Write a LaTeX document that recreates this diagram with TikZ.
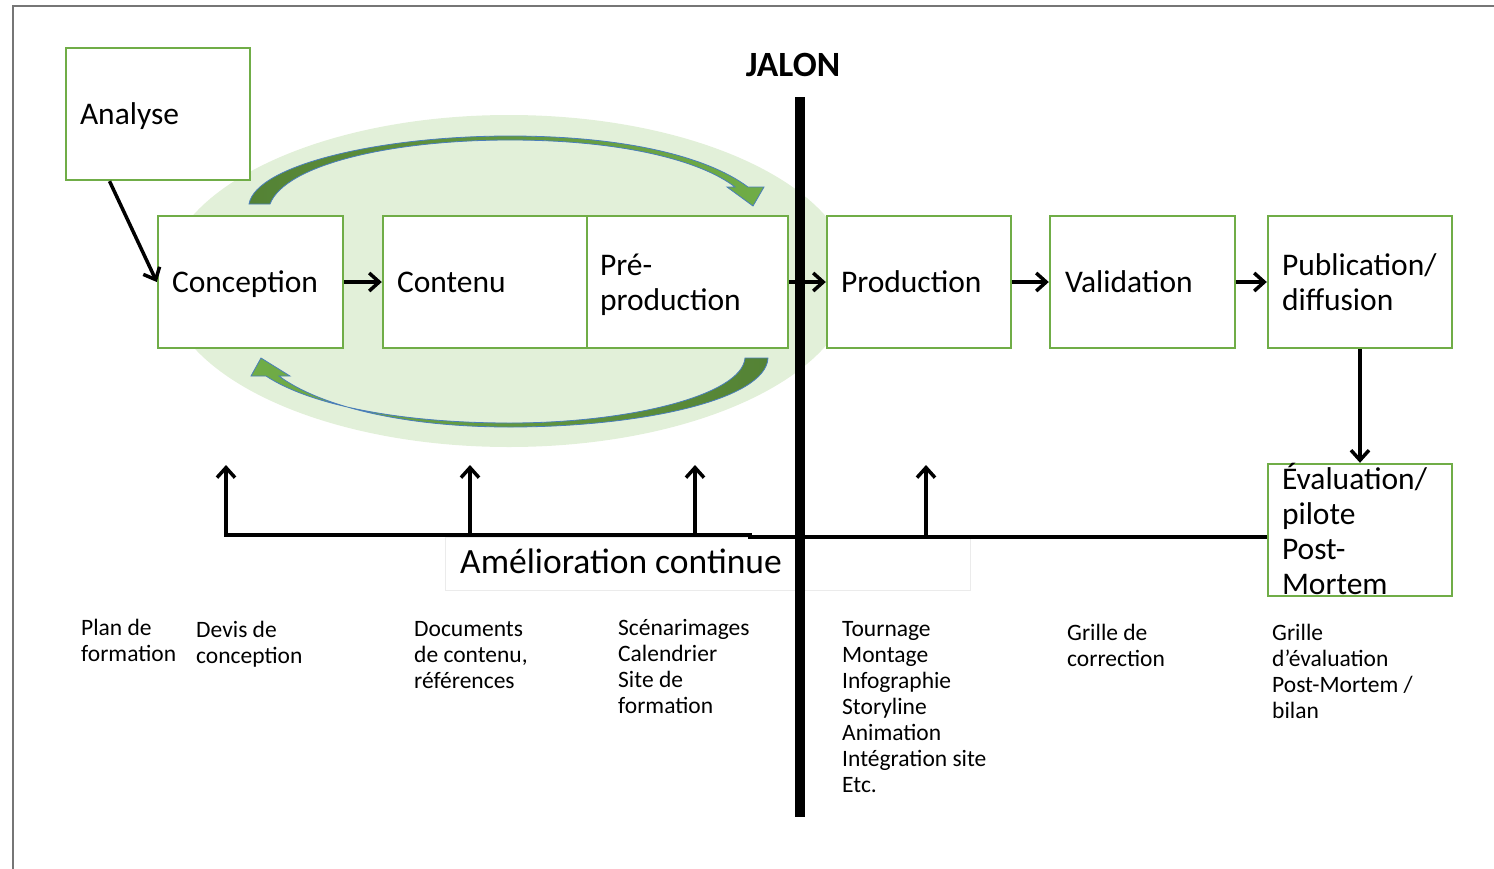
\documentclass[tikz,border=0pt]{standalone}
\usepackage{fontspec}
\setmainfont{Carlito}
\usetikzlibrary{arrows.meta,calc}
\definecolor{boxgreen}{HTML}{70AD47}
\definecolor{halo}{HTML}{E2F0D9}
\definecolor{darkleaf}{HTML}{548235}
\definecolor{lightleaf}{HTML}{70AD47}
\definecolor{rim}{HTML}{4A7EBB}
\definecolor{framegray}{HTML}{767676}
\begin{document}
\begin{tikzpicture}[x=1pt,y=-1pt,
  stage/.style={draw=boxgreen, line width=2.4, fill=white, minimum height=132, inner sep=0},
  stagetext/.style={anchor=base west, align=left, inner sep=0, font=\fontsize{31.5}{35}\selectfont},
  note/.style={anchor=base west, align=left, inner sep=0, font=\fontsize{23.5}{26}\selectfont},
  flow/.style={line width=3.5, -{Straight Barb[length=10,width=18]}},
  loop/.style={draw=rim, line width=0.8},
  rail/.style={line width=3.5},
]
\useasboundingbox (0,0) rectangle (1494,868);

% page frame
\draw[framegray, line width=2.5] (13,880) -- (13,6) -- (1510,6);

% iteration halo
\fill[halo] (509,281) ellipse [x radius=344pt, y radius=166pt];

% curved iteration arrows
\path[loop, left color=darkleaf, right color=lightleaf]
  (249,204) .. controls (256,165) and (380,136) .. (510,136)
  .. controls (620,136) and (705,155) .. (748,187)
  -- (764,187) -- (753,206) -- (727,187) -- (735,187)
  .. controls (700,160) and (620,140) .. (510,140)
  .. controls (390,140) and (285,165) .. (270,204) -- cycle;
\path[loop, left color=lightleaf, right color=darkleaf]
  (768,358) .. controls (766,400) and (640,427) .. (510,427)
  .. controls (400,427) and (318,405) .. (279,376)
  -- (290,376) -- (261,358) -- (251,376) -- (266,376)
  .. controls (310,405) and (400,423) .. (510,423)
  .. controls (630,423) and (742,395) .. (745,358) -- cycle;

% stages
\node[stage, minimum width=184] (analyse) at (158,114) {};
\node[stage, minimum width=185] (conception) at (250.5,282) {};
\node[stage, minimum width=204] (contenu) at (485,282) {};
\node[stage, minimum width=201] (preprod) at (687.5,282) {};
\node[stage, minimum width=184] (production) at (919,282) {};
\node[stage, minimum width=185] (validation) at (1142.5,282) {};
\node[stage, minimum width=184] (publication) at (1360,282) {};
\node[stage, minimum width=184] (evaluation) at (1360,530) {};

% stage labels (base anchor sits on the last line)
\node[stagetext] (t-analyse) at ([shift={(15,10)}]analyse.west) {Analyse};
\node[stagetext] (t-conception) at ([shift={(15,10)}]conception.west) {Conception};
\node[stagetext] (t-contenu) at ([shift={(15,10)}]contenu.west) {Contenu};
\node[stagetext] (t-preprod) at ([shift={(14,28)}]preprod.west) {Pré-\\production};
\node[stagetext] (t-production) at ([shift={(15,10)}]production.west) {Production};
\node[stagetext] (t-validation) at ([shift={(16,10)}]validation.west) {Validation};
\node[stagetext] (t-publication) at ([shift={(15,28)}]publication.west) {Publication/\\diffusion};
\node[stagetext] (t-evaluation) at ([shift={(15,64)}]evaluation.west) {Évaluation/\\pilote\\Post-\\Mortem};

% continuous improvement label
\node[draw=black!8, fill=white, line width=0.8, minimum width=525, minimum height=53, inner sep=0] (amelio) at (707.5,563.5) {};
\node[anchor=base west, inner sep=0, font=\fontsize{35.5}{40}\selectfont] (t-amelio) at (460,573) {Amélioration continue};

% feedback rail
\coordinate (fbA) at (226,535);
\coordinate (fbB) at (470,535);
\coordinate (fbC) at (695,535);
\coordinate (fbL) at (750,535);
\coordinate (fbR) at (748,537);
\coordinate (fbD) at (926,537);
\coordinate (upA) at (226,465);
\coordinate (upB) at (470,465);
\coordinate (upC) at (695,465);
\coordinate (upD) at (926,465);
\draw[rail, line cap=rect] (fbA) -- (fbL);
\draw[rail] (fbR) -- (evaluation.west |- fbR);
\draw[flow] (fbA) -- (upA);
\draw[flow] (fbB) -- (upB);
\draw[flow] (fbC) -- (upC);
\draw[flow] (fbD) -- (upD);

% milestone
\coordinate (jtop) at (800,97);
\coordinate (jbot) at (800,817);
\draw[line width=10] (jtop) -- (jbot);
\node[anchor=base, inner sep=0, font=\bfseries\fontsize{35.5}{40}\selectfont] (jalon) at (793,76) {JALON};

% main flow
\draw[flow] ($(analyse.south west)!0.24!(analyse.south east)$) -- (conception.west);
\draw[flow] (conception.east) -- (contenu.west);
\draw[flow] (preprod.east) -- (production.west);
\draw[flow] (production.east) -- (validation.west);
\draw[flow] (validation.east) -- (publication.west);
\draw[flow] (publication.south) -- (evaluation.north);

% deliverables (base anchor sits on the last line)
\node[note] (n1) at (81,661) {Plan de\\formation};
\node[note] (n2) at (196,663) {Devis de\\conception};
\node[note] (n3) at (414,688) {Documents\\de contenu,\\références};
\node[note] (n4) at (618,713) {Scénarimages\\Calendrier\\Site de\\formation};
\node[note] (n5) at (842,792) {Tournage\\Montage\\Infographie\\Storyline\\Animation\\Intégration site\\Etc.};
\node[note] (n6) at (1067,666) {Grille de\\correction};
\node[note] (n7) at (1272,718) {Grille\\d’évaluation\\Post-Mortem /\\bilan};
\end{tikzpicture}
\end{document}
